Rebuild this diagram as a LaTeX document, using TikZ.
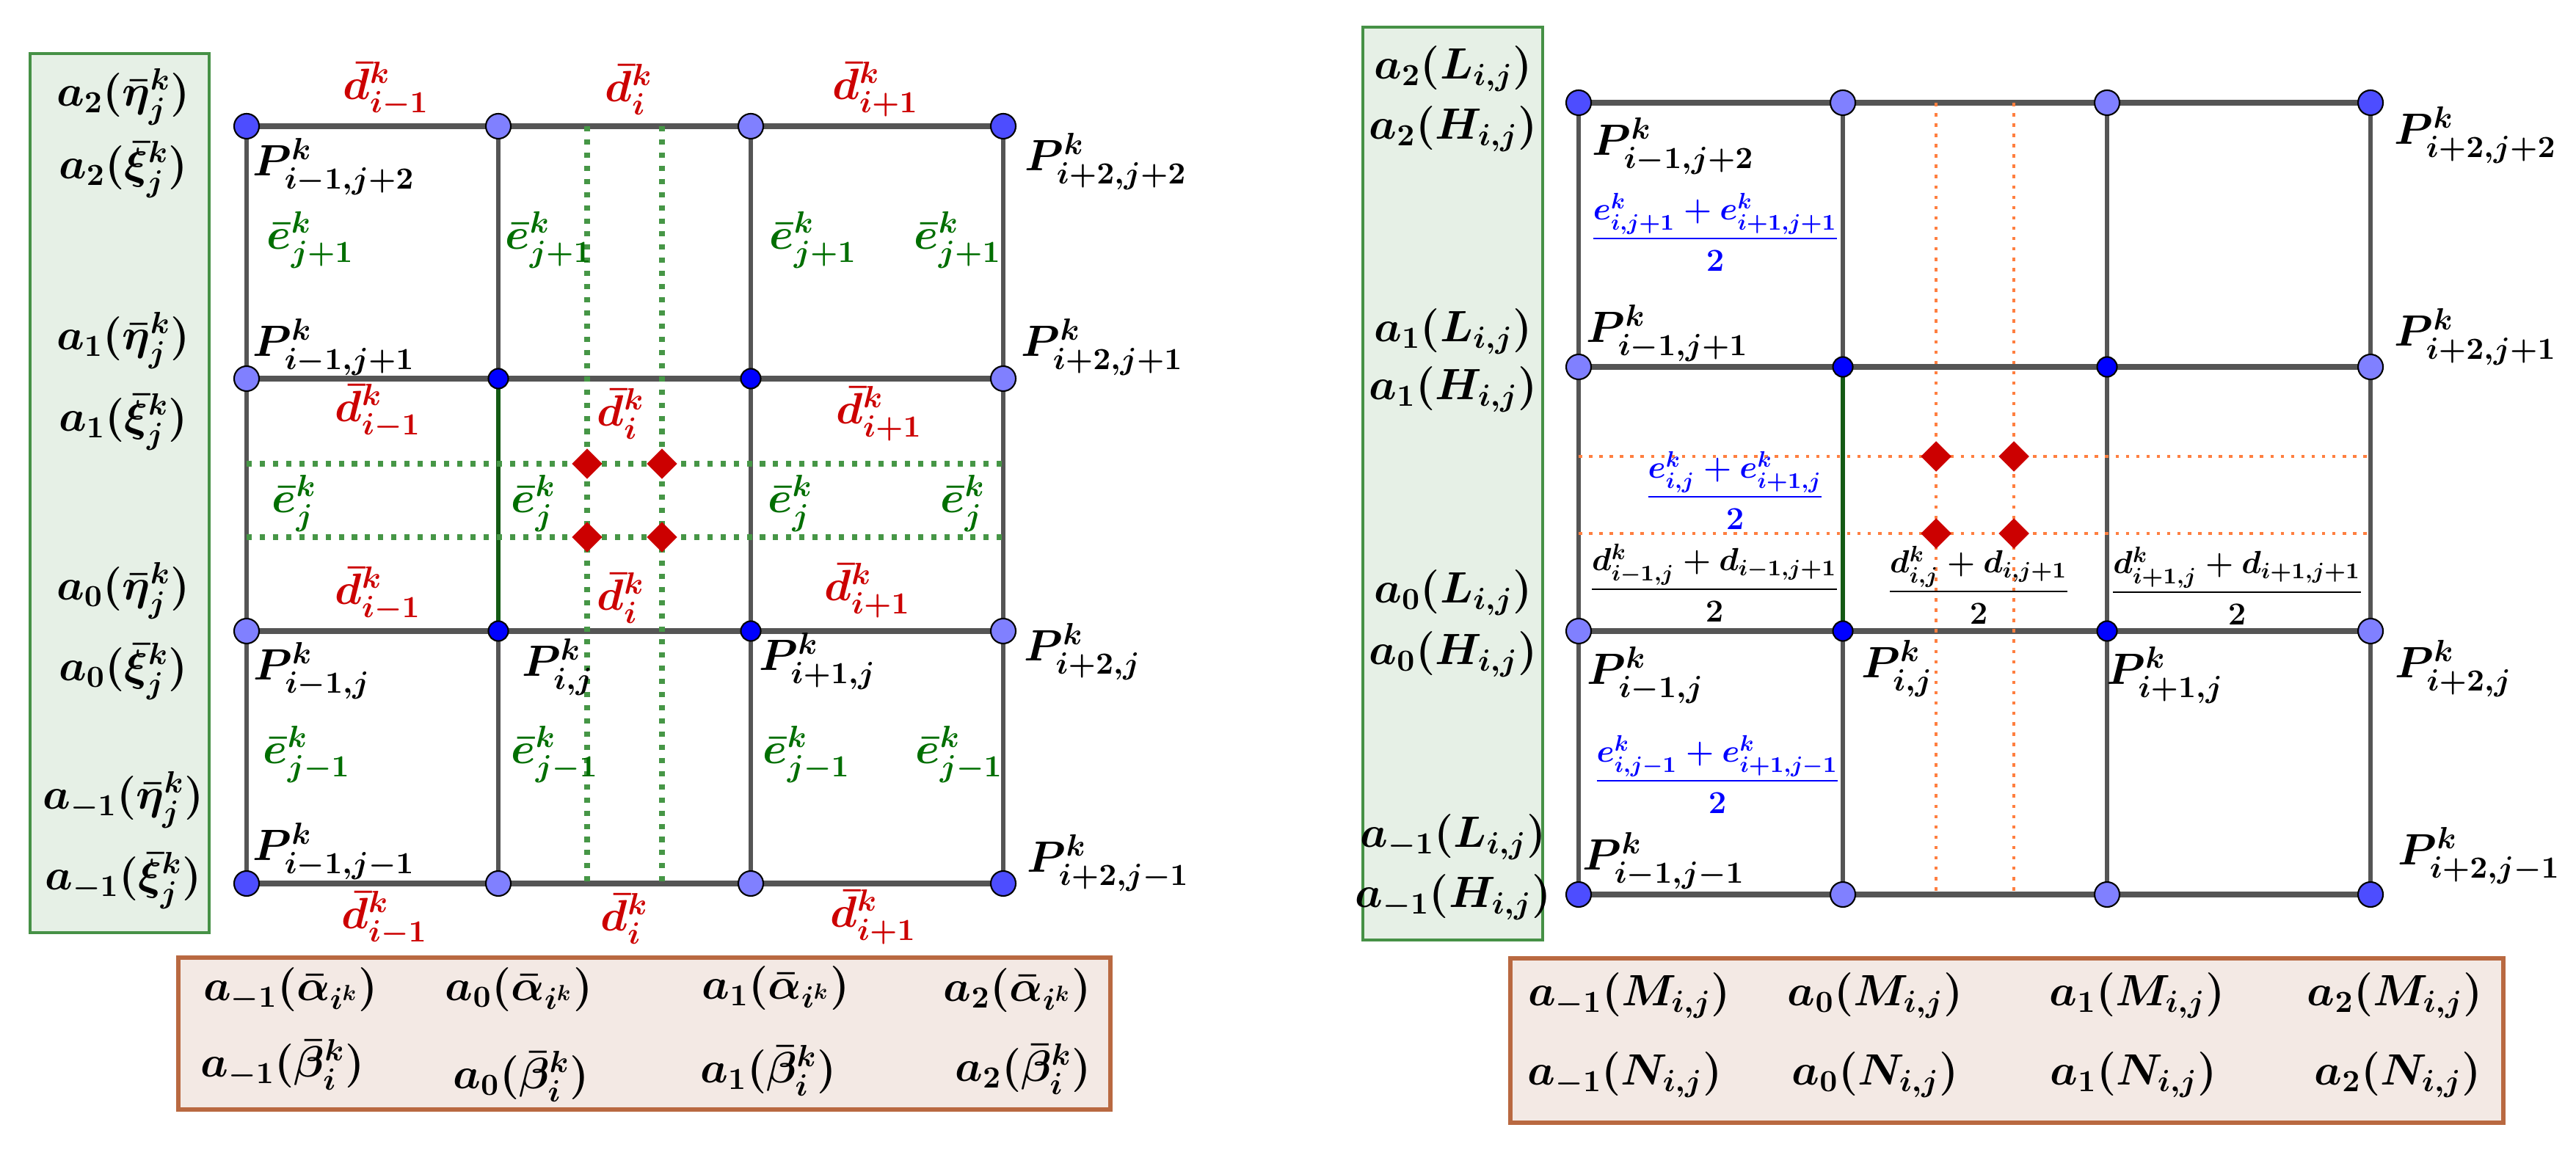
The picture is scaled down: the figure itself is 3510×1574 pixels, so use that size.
\RequirePackage{fix-cm}
\documentclass[tikz,border=0pt]{standalone}
\usepackage{amsmath}
\usepackage{xcolor}
\usepackage{tikz}
\usetikzlibrary{shapes.geometric}

\definecolor{gridgray}{RGB}{85,85,85}
\definecolor{segGreen}{RGB}{20,90,20}
\definecolor{dotGreen}{RGB}{70,150,70}
\definecolor{dotOrange}{RGB}{255,127,64}
\definecolor{ptCorner}{RGB}{77,77,255}
\definecolor{ptEdge}{RGB}{128,128,255}
\definecolor{ptInner}{RGB}{0,0,255}
\definecolor{markRed}{RGB}{204,0,0}
\definecolor{labelGreen}{RGB}{0,110,0}
\definecolor{boxGreen}{RGB}{70,145,70}
\definecolor{boxGreenFill}{RGB}{230,240,230}
\definecolor{boxBrown}{RGB}{185,105,65}
\definecolor{boxBrownFill}{RGB}{243,233,228}

\begin{document}
\begin{tikzpicture}[
    x=0.01cm, y=-0.01cm,
    hline/.style={draw=gridgray, line width=2.2pt},
    vline/.style={draw=gridgray, line width=1.6pt},
    greenseg/.style={draw=segGreen, line width=1.7pt},
    gdots/.style={draw=dotGreen, line width=2pt, dash pattern=on 2pt off 3.1pt},
    odots/.style={draw=dotOrange, line width=1.3pt, dash pattern=on 1.3pt off 2.7pt},
    cornerpt/.style={circle, draw=black, line width=0.6pt, fill=ptCorner, minimum size=0.34cm, inner sep=0pt},
    edgept/.style={cornerpt, fill=ptEdge},
    innerpt/.style={cornerpt, fill=ptInner, minimum size=0.27cm},
    redmark/.style={diamond, fill=markRed, minimum size=0.42cm, inner sep=0pt},
    lbl/.style={font=\fontsize{17}{20}\selectfont\boldmath, inner sep=0pt},
    dlbl/.style={lbl, text=markRed},
    elbl/.style={lbl, text=labelGreen},
    fraclbl/.style={font=\fontsize{12.4}{15}\selectfont\boldmath, inner sep=0pt},
    bfrac/.style={fraclbl, text=blue},
    sidebox/.style={draw=boxGreen, fill=boxGreenFill, line width=1.4pt},
    basebox/.style={draw=boxBrown, fill=boxBrownFill, line width=1.7pt}
]
    \useasboundingbox (0,0) rectangle (3510,1574);

    % boxes
    \draw[sidebox] (41,73) rectangle (285,1271);
    \draw[basebox] (243,1305) rectangle (1513,1512);
    \draw[sidebox] (1857,37) rectangle (2102,1281);
    \draw[basebox] (2058,1306) rectangle (3411,1530);

    % grid points
    \foreach \x [count=\c] in {336,679,1023,1367}
        \foreach \y [count=\r] in {172,516,860,1204}
            \coordinate (l-\c-\r) at (\x,\y);
    \foreach \x [count=\c] in {2151,2511,2871,3230}
        \foreach \y [count=\r] in {140,500,860,1219}
            \coordinate (r-\c-\r) at (\x,\y);

    % grid lines
    \foreach \g in {l,r} {
        \foreach \r in {1,...,4}
            \draw[hline] (\g-1-\r) -- (\g-4-\r);
        \foreach \c in {1,3,4}
            \draw[vline] (\g-\c-1) -- (\g-\c-4);
        \draw[vline] (\g-2-1) -- (\g-2-2);
        \draw[greenseg] (\g-2-2) -- (\g-2-3);
        \draw[vline] (\g-2-3) -- (\g-2-4);
    }

    % dotted lines, left
    \coordinate (lv1t) at (800,172);  \coordinate (lv1b) at (800,1204);
    \coordinate (lv2t) at (902,172);  \coordinate (lv2b) at (902,1204);
    \coordinate (lh1l) at (336,632);  \coordinate (lh1r) at (1367,632);
    \coordinate (lh2l) at (336,732);  \coordinate (lh2r) at (1367,732);
    \draw[gdots] (lv1t) -- (lv1b);
    \draw[gdots] (lv2t) -- (lv2b);
    \draw[gdots] (lh1l) -- (lh1r);
    \draw[gdots] (lh2l) -- (lh2r);

    % dotted lines, right
    \coordinate (rv1t) at (2638,140); \coordinate (rv1b) at (2638,1219);
    \coordinate (rv2t) at (2744,140); \coordinate (rv2b) at (2744,1219);
    \coordinate (rh1l) at (2151,622); \coordinate (rh1r) at (3230,622);
    \coordinate (rh2l) at (2151,727); \coordinate (rh2r) at (3230,727);
    \draw[odots] (rv1t) -- (rv1b);
    \draw[odots] (rv2t) -- (rv2b);
    \draw[odots] (rh1l) -- (rh1r);
    \draw[odots] (rh2l) -- (rh2r);

    % red marks
    \node[redmark] (lm1) at (800,632) {};
    \node[redmark] (lm2) at (902,632) {};
    \node[redmark] (lm3) at (800,732) {};
    \node[redmark] (lm4) at (902,732) {};
    \node[redmark] (rm1) at (2638,622) {};
    \node[redmark] (rm2) at (2744,622) {};
    \node[redmark] (rm3) at (2638,727) {};
    \node[redmark] (rm4) at (2744,727) {};

    % points
    \foreach \g in {l,r} {
        \foreach \p in {1-1,4-1,1-4,4-4}
            \node[cornerpt] (\g-\p-pt) at (\g-\p) {};
        \foreach \p in {2-1,3-1,1-2,4-2,1-3,4-3,2-4,3-4}
            \node[edgept] (\g-\p-pt) at (\g-\p) {};
        \foreach \p in {2-2,3-2,2-3,3-3}
            \node[innerpt] (\g-\p-pt) at (\g-\p) {};
    }

    % left side box
    \node[lbl] (eta2) at (168,132) {$a_2(\bar{\eta}^k_j)$};
    \node[lbl] (xi2) at (168,231) {$a_2(\bar{\xi}^k_j)$};
    \node[lbl] (eta1) at (168,464) {$a_1(\bar{\eta}^k_j)$};
    \node[lbl] (xi1) at (168,575) {$a_1(\bar{\xi}^k_j)$};
    \node[lbl] (eta0) at (168,805) {$a_0(\bar{\eta}^k_j)$};
    \node[lbl] (xi0) at (168,915) {$a_0(\bar{\xi}^k_j)$};
    \node[lbl] (etam) at (168,1090) {$a_{-1}(\bar{\eta}^k_j)$};
    \node[lbl] (xim) at (168,1200) {$a_{-1}(\bar{\xi}^k_j)$};

    % d labels
    \node[dlbl] (d11) at (526,122) {$\bar{d}^k_{i-1}$};
    \node[dlbl] (d12) at (857,122) {$\bar{d}^k_{i}$};
    \node[dlbl] (d13) at (1193,122) {$\bar{d}^k_{i+1}$};
    \node[dlbl] (d21) at (515,561) {$\bar{d}^k_{i-1}$};
    \node[dlbl] (d22) at (846,564) {$\bar{d}^k_{i}$};
    \node[dlbl] (d23) at (1198,564) {$\bar{d}^k_{i+1}$};
    \node[dlbl] (d31) at (515,810) {$\bar{d}^k_{i-1}$};
    \node[dlbl] (d32) at (846,815) {$\bar{d}^k_{i}$};
    \node[dlbl] (d33) at (1182,805) {$\bar{d}^k_{i+1}$};
    \node[dlbl] (d41) at (524,1252) {$\bar{d}^k_{i-1}$};
    \node[dlbl] (d42) at (851,1252) {$\bar{d}^k_{i}$};
    \node[dlbl] (d43) at (1190,1250) {$\bar{d}^k_{i+1}$};

    % e labels
    \node[elbl] (e11) at (423,327) {$\bar{e}^k_{j+1}$};
    \node[elbl] (e12) at (748,327) {$\bar{e}^k_{j+1}$};
    \node[elbl] (e13) at (1108,327) {$\bar{e}^k_{j+1}$};
    \node[elbl] (e14) at (1305,327) {$\bar{e}^k_{j+1}$};
    \node[elbl] (e21) at (401,686) {$\bar{e}^k_{j}$};
    \node[elbl] (e22) at (727,686) {$\bar{e}^k_{j}$};
    \node[elbl] (e23) at (1077,686) {$\bar{e}^k_{j}$};
    \node[elbl] (e24) at (1312,686) {$\bar{e}^k_{j}$};
    \node[elbl] (e31) at (418,1028) {$\bar{e}^k_{j-1}$};
    \node[elbl] (e32) at (756,1028) {$\bar{e}^k_{j-1}$};
    \node[elbl] (e33) at (1099,1028) {$\bar{e}^k_{j-1}$};
    \node[elbl] (e34) at (1307,1028) {$\bar{e}^k_{j-1}$};

    % P labels, left
    \node[lbl] (lP12) at (455,227) {$P^k_{i-1,j+2}$};
    \node[lbl] (lP42) at (1507,220) {$P^k_{i+2,j+2}$};
    \node[lbl] (lP11) at (455,473) {$P^k_{i-1,j+1}$};
    \node[lbl] (lP41) at (1502,473) {$P^k_{i+2,j+1}$};
    \node[lbl] (lP10) at (425,914) {$P^k_{i-1,j}$};
    \node[lbl] (lP20) at (760,909) {$P^k_{i,j}$};
    \node[lbl] (lP30) at (1114,901) {$P^k_{i+1,j}$};
    \node[lbl] (lP40) at (1475,888) {$P^k_{i+2,j}$};
    \node[lbl] (lP1m) at (455,1160) {$P^k_{i-1,j-1}$};
    \node[lbl] (lP4m) at (1510,1176) {$P^k_{i+2,j-1}$};

    % left base box
    \node[lbl] (al1) at (396,1349) {$a_{-1}(\bar{\alpha}_{i^k})$};
    \node[lbl] (al2) at (707,1349) {$a_0(\bar{\alpha}_{i^k})$};
    \node[lbl] (al3) at (1057,1347) {$a_1(\bar{\alpha}_{i^k})$};
    \node[lbl] (al4) at (1386,1350) {$a_2(\bar{\alpha}_{i^k})$};
    \node[lbl] (be1) at (385,1451) {$a_{-1}(\bar{\beta}^k_i)$};
    \node[lbl] (be2) at (710,1467) {$a_0(\bar{\beta}^k_i)$};
    \node[lbl] (be3) at (1047,1459) {$a_1(\bar{\beta}^k_i)$};
    \node[lbl] (be4) at (1394,1457) {$a_2(\bar{\beta}^k_i)$};

    % right side box
    \node[lbl] (L2) at (1980,94) {$a_2(L_{i,j})$};
    \node[lbl] (H2) at (1980,176) {$a_2(H_{i,j})$};
    \node[lbl] (L1) at (1980,452) {$a_1(L_{i,j})$};
    \node[lbl] (H1) at (1980,531) {$a_1(H_{i,j})$};
    \node[lbl] (L0) at (1980,808) {$a_0(L_{i,j})$};
    \node[lbl] (H0) at (1980,892) {$a_0(H_{i,j})$};
    \node[lbl] (Lm) at (1980,1141) {$a_{-1}(L_{i,j})$};
    \node[lbl] (Hm) at (1980,1223) {$a_{-1}(H_{i,j})$};

    % P labels, right
    \node[lbl] (rP12) at (2280,199) {$P^k_{i-1,j+2}$};
    \node[lbl] (rP42) at (3373,184) {$P^k_{i+2,j+2}$};
    \node[lbl] (rP11) at (2272,454) {$P^k_{i-1,j+1}$};
    \node[lbl] (rP41) at (3373,459) {$P^k_{i+2,j+1}$};
    \node[lbl] (rP10) at (2242,920) {$P^k_{i-1,j}$};
    \node[lbl] (rP20) at (2585,911) {$P^k_{i,j}$};
    \node[lbl] (rP30) at (2950,920) {$P^k_{i+1,j}$};
    \node[lbl] (rP40) at (3343,911) {$P^k_{i+2,j}$};
    \node[lbl] (rP1m) at (2267,1173) {$P^k_{i-1,j-1}$};
    \node[lbl] (rP4m) at (3378,1166) {$P^k_{i+2,j-1}$};

    % averages
    \node[bfrac] (ea1) at (2337,316) {$\dfrac{e^k_{i,j+1}+e^k_{i+1,j+1}}{2}$};
    \node[bfrac] (ea0) at (2364,668) {$\dfrac{e^k_{i,j}+e^k_{i+1,j}}{2}$};
    \node[bfrac] (eam) at (2340,1055) {$\dfrac{e^k_{i,j-1}+e^k_{i+1,j-1}}{2}$};
    \node[fraclbl] (da1) at (2336,794) {$\dfrac{d^k_{i-1,j}+d_{i-1,j+1}}{2}$};
    \node[fraclbl] (da2) at (2696,797) {$\dfrac{d^k_{i,j}+d_{i,j+1}}{2}$};
    \node[fraclbl] (da3) at (3048,798) {$\dfrac{d^k_{i+1,j}+d_{i+1,j+1}}{2}$};

    % right base box
    \node[lbl] (M1) at (2220,1357) {$a_{-1}(M_{i,j})$};
    \node[lbl] (M2) at (2555,1357) {$a_0(M_{i,j})$};
    \node[lbl] (M3) at (2912,1357) {$a_1(M_{i,j})$};
    \node[lbl] (M4) at (3263,1357) {$a_2(M_{i,j})$};
    \node[lbl] (N1) at (2214,1465) {$a_{-1}(N_{i,j})$};
    \node[lbl] (N2) at (2555,1465) {$a_0(N_{i,j})$};
    \node[lbl] (N3) at (2907,1465) {$a_1(N_{i,j})$};
    \node[lbl] (N4) at (3267,1465) {$a_2(N_{i,j})$};
\end{tikzpicture}
\end{document}
